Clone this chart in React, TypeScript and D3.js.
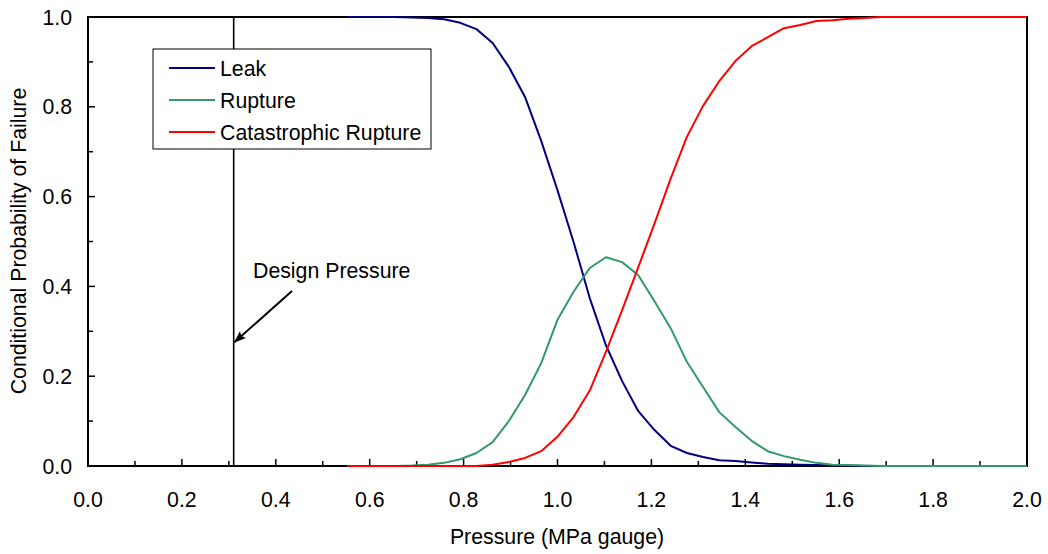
import React from "react";
import * as d3 from "d3";

// Pressure points (psi gauge), converted to MPa gauge for plotting
const pressurePsi = [
  80, 85, 90, 95, 100, 105, 110, 115, 120, 125, 130, 135, 140, 145, 150, 155, 160, 165, 170, 175, 180, 185,
  190, 195, 200, 205, 210, 215, 220, 225, 230, 235, 240, 245, 250, 255, 260, 265, 270, 275, 280, 285, 290,
];
const PSI_TO_MPA = 0.00689476;

const leak = [
  1.0, 1.0, 1.0, 1.0, 0.999, 0.998, 0.995, 0.987, 0.973, 0.942, 0.889, 0.822, 0.724, 0.615, 0.499, 0.374, 0.269,
  0.189, 0.122, 0.08, 0.045, 0.029, 0.02, 0.013, 0.011, 0.008, 0.005, 0.004, 0.003, 0.002, 0.001, 0.0005, 0, 0, 0,
  0, 0, 0, 0, 0, 0, 0, 0,
];
const rupture = [
  0, 0, 0, 0, 0.001, 0.003, 0.007, 0.015, 0.029, 0.053, 0.1, 0.158, 0.229, 0.325, 0.388, 0.441, 0.465, 0.454,
  0.425, 0.367, 0.307, 0.232, 0.176, 0.12, 0.087, 0.056, 0.033, 0.022, 0.014, 0.007, 0.003, 0.002, 0.001, 0, 0, 0,
  0, 0, 0, 0, 0, 0, 0,
];
const catastrophic = [
  0, 0, 0, 0, 0, 0, 0, 0, 0, 0.003, 0.009, 0.018, 0.033, 0.065, 0.109, 0.168, 0.254, 0.347, 0.443, 0.54, 0.64,
  0.733, 0.802, 0.857, 0.902, 0.935, 0.955, 0.975, 0.982, 0.991, 0.993, 0.996, 0.998, 1.0, 1.0, 1.0, 1.0, 1.0, 1.0,
  1.0, 1.0, 1.0, 1.0,
];

const seriesNames = ["Leak", "Rupture", "Catastrophic Rupture"];
const seriesColors = ["#000080", "#339966", "#ff0000"];
const seriesValues = [leak, rupture, catastrophic];

const xTicks = [0, 0.2, 0.4, 0.6, 0.8, 1.0, 1.2, 1.4, 1.6, 1.8, 2.0];
const xMinorTicks = [0.1, 0.3, 0.5, 0.7, 0.9, 1.1, 1.3, 1.5, 1.7, 1.9];
const yTicks = [0, 0.2, 0.4, 0.6, 0.8, 1.0];
const yMinorTicks = [0.1, 0.3, 0.5, 0.7, 0.9];

const designPressure = 0.3103; // 45 psi
const designLabel = "Design Pressure";

const W = 1048;
const H = 554;
const FONT = "'Liberation Sans', Arial, sans-serif";
const FS = 21.3;

export default function App() {
  const x = d3.scaleLinear().domain([0, 2]).range([88, 1027]);
  const y = d3.scaleLinear().domain([0, 1]).range([466, 17]);
  const [x0, x1] = x.range();
  const [y0, y1] = y.range();

  const line = d3
    .line<[number, number]>()
    .x((d) => x(d[0]))
    .y((d) => y(d[1]));

  const dp = x(designPressure);

  return (
    <svg
      width={W}
      height={H}
      style={{ position: "absolute", left: 0, top: 0, background: "#fff" }}
      fontFamily={FONT}
    >
      <defs>
        <marker id="arr" viewBox="0 0 12 10" refX="11" refY="5" markerWidth="13" markerHeight="10" orient="auto" markerUnits="userSpaceOnUse">
          <path d="M0,0.5 L12,5 L0,9.5 L2,5 Z" fill="#000" />
        </marker>
      </defs>
      <rect x={0} y={0} width={W} height={H} fill="#fff" />

      {/* design pressure line */}
      <line x1={dp} x2={dp} y1={y1} y2={y0} stroke="#000" strokeWidth={1.6} />

      {/* ticks */}
      {xTicks.map((t) => (
        <line key={"xt" + t} x1={x(t)} x2={x(t)} y1={y0} y2={y0 - 7} stroke="#000" strokeWidth={1.5} />
      ))}
      {xMinorTicks.map((t) => (
        <line key={"xm" + t} x1={x(t)} x2={x(t)} y1={y0} y2={y0 - 5} stroke="#000" strokeWidth={1.5} />
      ))}
      {yTicks.map((t) => (
        <line key={"yt" + t} x1={x0} x2={x0 + 7} y1={y(t)} y2={y(t)} stroke="#000" strokeWidth={1.5} />
      ))}
      {yMinorTicks.map((t) => (
        <line key={"ym" + t} x1={x0} x2={x0 + 5} y1={y(t)} y2={y(t)} stroke="#000" strokeWidth={1.5} />
      ))}

      {/* frame */}
      <rect x={x0} y={y1} width={x1 - x0} height={y0 - y1} fill="none" stroke="#000" strokeWidth={2} />

      {/* series */}
      {seriesValues.map((vals, i) => (
        <path
          key={seriesNames[i]}
          d={line(pressurePsi.map((p, j) => [p * PSI_TO_MPA, vals[j]] as [number, number])) || ""}
          fill="none"
          stroke={seriesColors[i]}
          strokeWidth={2}
          strokeLinejoin="round"
        />
      ))}

      {/* tick labels */}
      {xTicks.map((t) => (
        <text key={"xl" + t} x={x(t)} y={507} textAnchor="middle" fontSize={FS} fill="#000">
          {t.toFixed(1)}
        </text>
      ))}
      {yTicks.map((t) => (
        <text key={"yl" + t} x={72} y={y(t) + 7.5} textAnchor="end" fontSize={FS} fill="#000">
          {t.toFixed(1)}
        </text>
      ))}

      {/* axis titles */}
      <text x={557} y={544} textAnchor="middle" fontSize={FS} fill="#000">
        Pressure (MPa gauge)
      </text>
      <text transform={`translate(26,241) rotate(-90)`} textAnchor="middle" fontSize={FS} fill="#000">
        Conditional Probability of Failure
      </text>

      {/* legend */}
      <rect x={153} y={49} width={278} height={100} fill="#fff" stroke="#000" strokeWidth={1} />
      {seriesNames.map((n, i) => {
        const ly = 68 + i * 32;
        return (
          <g key={"lg" + n}>
            <line x1={169} x2={215} y1={ly} y2={ly} stroke={seriesColors[i]} strokeWidth={2} />
            <text x={220} y={ly + 7.5} fontSize={FS} fill="#000">
              {n}
            </text>
          </g>
        );
      })}

      {/* annotation */}
      <text x={253} y={278} fontSize={FS} fill="#000">
        {designLabel}
      </text>
      <line x1={292} x2={dp + 1} y1={291} y2={342} stroke="#000" strokeWidth={2} markerEnd="url(#arr)" />
    </svg>
  );
}
